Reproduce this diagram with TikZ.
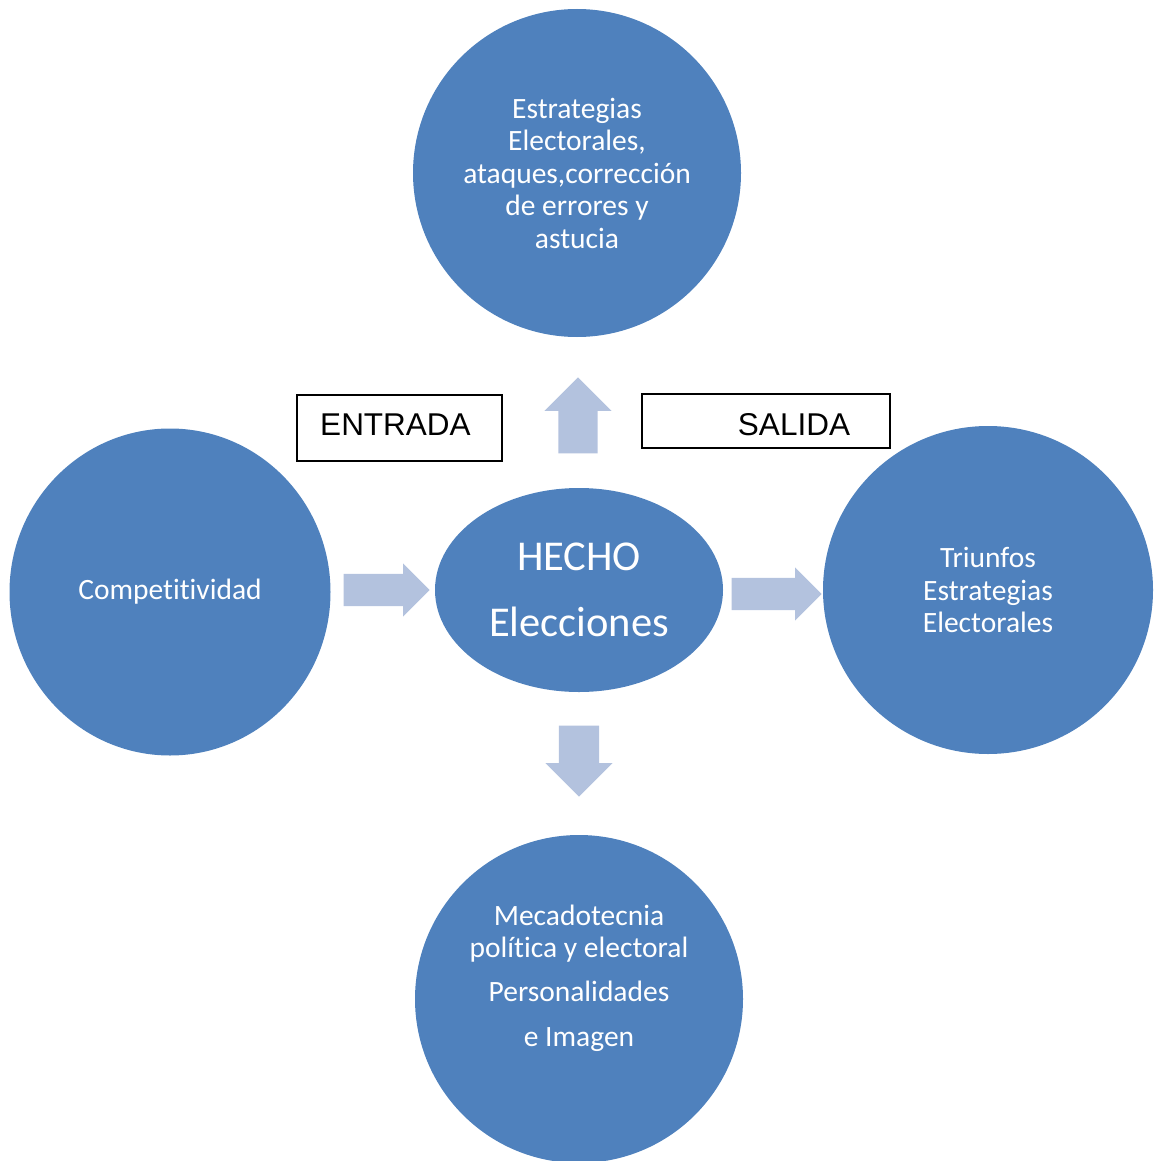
\documentclass[tikz,border=0pt]{standalone}
\usepackage{fontspec}
\setmainfont{Carlito}[Ligatures=NoCommon]
\newfontfamily\boxfont{Liberation Sans}
\usetikzlibrary{shapes.geometric,shapes.arrows}
\definecolor{circblue}{HTML}{4F81BD}
\definecolor{arrowblue}{HTML}{B3C2DE}

\begin{document}
\begin{tikzpicture}[%
            x=1pt,
            y=-1pt,
            ]
    \tikzset{bubble/.style = {ellipse, fill=circblue, inner sep=0pt, text=white, align=center, font=\fontsize{29.5}{32.5}\selectfont}}
    \tikzset{blockarrow/.style = {single arrow, fill=arrowblue, inner xsep=0pt, anchor=tip}}
    \tikzset{tagbox/.style = {draw, line width=1.5pt, inner sep=0pt, font=\boxfont\fontsize{31.5}{36}\selectfont}}

    \useasboundingbox (0,0) rectangle (1153,1161);

    % Circles
    \node[bubble, minimum width=328, minimum height=328] (estrategias) at (577,173) {Estrategias\\Electorales,\\ataques,corrección\\de errores y\\astucia};
    \node[bubble, minimum width=321, minimum height=327] (competitividad) at (170,592) {Competitividad};
    \node[bubble, minimum width=330, minimum height=328] (triunfos) at (988,590) {Triunfos\\Estrategias\\Electorales};
    \node[bubble, minimum width=328, minimum height=328] (mercadotecnia) at (579,999) {};
    \node[text=white, align=center, font=\fontsize{29.5}{32.5}\selectfont] (mercadotecniaTxt) at (579,978.5) {Mecadotecnia\\política y electoral\\[11pt]Personalidades\\[13pt]e Imagen};

    % Center
    \node[bubble, minimum width=288, minimum height=204, font=\fontsize{42.5}{66}\selectfont] (hecho) at (579,590) {HECHO\\Elecciones};

    % Block arrows
    \node[blockarrow, inner ysep=16pt, minimum height=86, minimum width=53, single arrow head extend=10.5pt] (arrIn) at (430,590) {};
    \node[blockarrow, inner ysep=16pt, minimum height=90, minimum width=53, single arrow head extend=10.5pt] (arrOut) at (822,594) {};
    \node[blockarrow, rotate=90, inner ysep=19.5pt, minimum height=76, minimum width=67, single arrow head extend=14pt] (arrUp) at (578,377) {};
    \node[blockarrow, rotate=-90, inner ysep=20pt, minimum height=71, minimum width=67, single arrow head extend=13.5pt] (arrDown) at (579,797) {};

    % Labels
    \node[tagbox, minimum width=205, minimum height=66, text height=22pt, text depth=8pt] (entrada) at (399.5,428) {ENTRADA\hspace*{8pt}};
    \node[tagbox, minimum width=248, minimum height=54, text height=28pt, text depth=0pt] (salida) at (766,421) {\hspace*{56pt}SALIDA};

\end{tikzpicture}
\end{document}
